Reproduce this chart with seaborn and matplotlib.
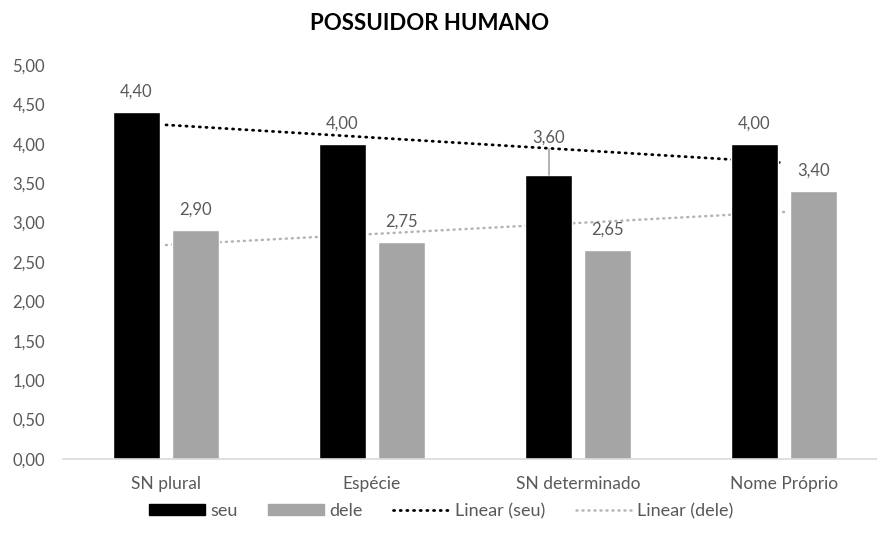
import numpy as np
import pandas as pd
import matplotlib
matplotlib.use("Agg")
import matplotlib.pyplot as plt
import seaborn as sns
from matplotlib.patches import Patch
from matplotlib.lines import Line2D

# data
categories = ["SN plural", "Espécie", "SN determinado", "Nome Próprio"]
seu = [4.40, 4.00, 3.60, 4.00]
dele = [2.90, 2.75, 2.65, 3.40]
series_names = ["seu", "dele"]
yticks = [0.0, 0.5, 1.0, 1.5, 2.0, 2.5, 3.0, 3.5, 4.0, 4.5, 5.0]

BLACK = "#000000"
GRAY = "#a5a5a5"
TREND_GRAY = "#b4b4b4"
TEXT = "#595959"
DOT = (0, (0.4, 2.0))


def fmt(v):
    return f"{v:.2f}".replace(".", ",")


def main():
    sns.set_theme(style="white")
    plt.rcParams["font.family"] = ["Lato", "DejaVu Sans"]

    df = pd.DataFrame({
        "categoria": categories * 2,
        "serie": [series_names[0]] * 4 + [series_names[1]] * 4,
        "valor": seu + dele,
    })

    fig = plt.figure(figsize=(8.78, 5.33), dpi=100)
    ax = fig.add_axes([63 / 878, 74 / 533, 824 / 878, 394 / 533])

    sns.barplot(data=df, x="categoria", y="valor", hue="serie",
                palette=[BLACK, GRAY], width=0.572, gap=0.2,
                saturation=1, legend=False, ax=ax, zorder=2)

    # linear trendlines (Excel style), drawn behind the bars
    xpos = np.arange(len(categories))
    sns.regplot(x=xpos, y=np.array(seu), scatter=False, ci=None, ax=ax,
                line_kws=dict(color="black", lw=2.0, ls=DOT,
                              dash_capstyle="round", zorder=1))
    sns.regplot(x=xpos, y=np.array(dele), scatter=False, ci=None, ax=ax,
                line_kws=dict(color=TREND_GRAY, lw=1.8, ls=DOT,
                              dash_capstyle="round", zorder=1))

    # data labels
    seu_labels = [fmt(v) for v in seu]
    seu_labels[2] = ""
    ax.bar_label(ax.containers[0], labels=seu_labels, padding=9,
                 color=TEXT, fontsize=12)
    ax.bar_label(ax.containers[1], labels=[fmt(v) for v in dele], padding=9,
                 color=TEXT, fontsize=12)

    # moved label with leader line for SN determinado / seu
    bar = ax.containers[0][2]
    bx = bar.get_x() + bar.get_width() / 2
    ax.plot([bx, bx], [seu[2], 3.93], color="#a6a6a6", lw=1.2, zorder=3)
    ax.text(bx, 3.98, fmt(seu[2]), ha="center", va="bottom",
            color=TEXT, fontsize=12)

    ax.set_ylim(0, 5)
    ax.set_xlim(-0.5, 3.5)
    ax.set_yticks(yticks)
    ax.set_yticklabels([fmt(v) for v in yticks])
    ax.set_xlabel("")
    ax.set_ylabel("")
    ax.tick_params(axis="y", length=0, pad=13, labelsize=12, labelcolor=TEXT)
    ax.tick_params(axis="x", length=0, pad=12, labelsize=12.5, labelcolor=TEXT)
    for s in ["top", "right", "left"]:
        ax.spines[s].set_visible(False)
    ax.spines["bottom"].set_color("#d9d9d9")
    ax.spines["bottom"].set_linewidth(1.2)
    ax.grid(False)

    fig.text(430 / 878, 1 - 23 / 533, "POSSUIDOR HUMANO", ha="center",
             va="center", fontsize=16, fontweight="bold", color="black")

    handles = [
        Patch(facecolor=BLACK, edgecolor=BLACK),
        Patch(facecolor=GRAY, edgecolor=GRAY),
        Line2D([], [], color="black", lw=2.0, ls=DOT, dash_capstyle="round"),
        Line2D([], [], color=TREND_GRAY, lw=1.8, ls=DOT, dash_capstyle="round"),
    ]
    labels = ["seu", "dele", "Linear (seu)", "Linear (dele)"]
    fig.legend(handles, labels, loc="center",
               bbox_to_anchor=(441 / 878, 1 - 511 / 533),
               ncol=4, frameon=False, fontsize=13, labelcolor=TEXT,
               handlelength=3.1, handleheight=0.55, handletextpad=0.3,
               columnspacing=1.7)

    fig.savefig("out.png", dpi=100)
    plt.close(fig)


if __name__ == "__main__":
    main()
